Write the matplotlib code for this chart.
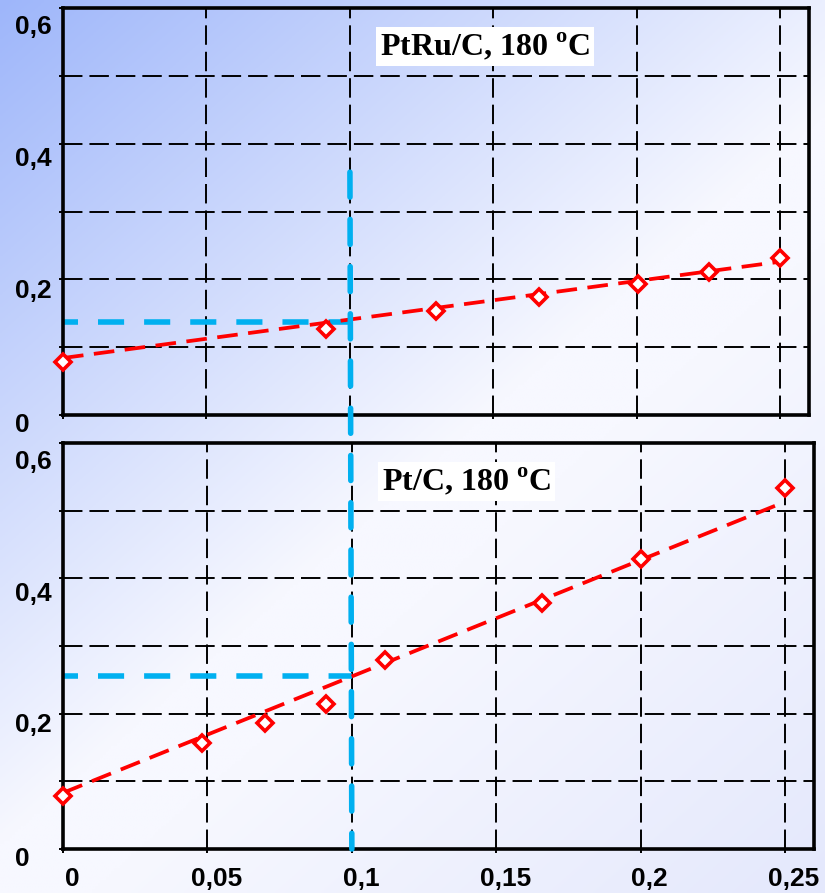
import numpy as np
import matplotlib
matplotlib.use("Agg")
import matplotlib.pyplot as plt
from matplotlib.patches import ConnectionPatch
from matplotlib.transforms import ScaledTranslation

plt.rcParams['font.family'] = ['Liberation Sans', 'DejaVu Sans']
plt.rcParams['mathtext.fontset'] = 'custom'
plt.rcParams['mathtext.rm'] = 'Liberation Serif'
plt.rcParams['mathtext.bf'] = 'Liberation Serif:bold'

# data
ptru_x = [0, 0.0917, 0.130, 0.166, 0.2005, 0.225, 0.25]
ptru_y = [0.078, 0.127, 0.153, 0.174, 0.193, 0.211, 0.231]
ptru_fit_x = [0, 0.25]
ptru_fit_y = [0.084, 0.226]
ptru_mark_y = 0.137      # cyan guide at x = 0.1

pt_x = [0, 0.048, 0.070, 0.091, 0.1115, 0.166, 0.200, 0.250]
pt_y = [0.078, 0.156, 0.186, 0.215, 0.279, 0.364, 0.428, 0.534]
pt_fit_x = [0, 0.247]
pt_fit_y = [0.083, 0.508]
pt_mark_y = 0.255

mark_x = 0.1
vline_top = 0.358

x_ticks = [0, 0.05, 0.1, 0.15, 0.2, 0.25]
x_labels = ['0', '0,05', '0,1', '0,15', '0,2', '0,25']
y_ticks = [0, 0.1, 0.2, 0.3, 0.4, 0.5, 0.6]
y_labels = ['0', '', '0,2', '', '0,4', '', '0,6']
y_label_shift = [7, 0, 9, 0, 13, 0, 17]   # px, labels sit a bit low

titles = ['PtRu/C, 180 $^{\\mathbf{o}}$C', 'Pt/C, 180 $^{\\mathbf{o}}$C']

W, H, DPI = 825, 893, 100
fig = plt.figure(figsize=(W / DPI, H / DPI), dpi=DPI)

# gradient background (blue top-left fading to white, faint blue bottom-right)
bg = fig.add_axes([0, 0, 1, 1], zorder=-10)
gy, gx = np.mgrid[0:1:300j, 0:1:300j]
t = 0.45 * gx + 0.55 * gy
c0 = np.array([158, 182, 250]) / 255
c1 = np.array([247, 248, 255]) / 255
c2 = np.array([228, 232, 252]) / 255
a = np.clip(t / 0.52, 0, 1)[..., None]
b = np.clip((t - 0.6) / 0.4, 0, 1)[..., None]
img = c0 * (1 - a) + c1 * a
img = img * (1 - b) + c2 * b
bg.imshow(img, extent=[0, 1, 0, 1], aspect='auto', origin='upper')
bg.axis('off')

ax1 = fig.add_axes([63 / W, 1 - 415 / H, 746 / W, 407 / H])
ax2 = fig.add_axes([63 / W, 1 - 849 / H, 751 / W, 406 / H])

red = '#ff0000'
cyan = '#00b0f0'

panels = [(ax1, ptru_x, ptru_y, ptru_fit_x, ptru_fit_y, ptru_mark_y),
          (ax2, pt_x, pt_y, pt_fit_x, pt_fit_y, pt_mark_y)]

for i, (ax, xs, ys, fx, fy, my) in enumerate(panels):
    ax.set_facecolor('none')
    ax.set_xlim(0, 0.26)
    ax.set_ylim(0, 0.6)
    for s in ax.spines.values():
        s.set_linewidth(2.6)
        s.set_color('black')
    ax.set_xticks(x_ticks)
    ax.set_yticks(y_ticks)
    ax.set_yticklabels(y_labels)
    if i == 1:
        ax.set_xticklabels(x_labels)
    else:
        ax.set_xticklabels([])
    ax.tick_params(axis='both', direction='out', length=3, width=1.4, color='black',
                   labelsize=19)
    ax.tick_params(axis='x', pad=10)
    ax.tick_params(axis='y', pad=31.5)
    for lab in ax.get_xticklabels():
        lab.set_fontweight('bold')
        lab.set_transform(lab.get_transform() + ScaledTranslation(0.09, 0, fig.dpi_scale_trans))
    for lab, dy in zip(ax.get_yticklabels(), y_label_shift):
        lab.set_fontweight('bold')
        lab.set_ha('left')
        lab.set_transform(lab.get_transform() + ScaledTranslation(0, -dy / DPI, fig.dpi_scale_trans))

    for gxv in x_ticks[1:]:
        ax.axvline(gxv, color='black', lw=1.4, ls=(0, (10, 3.6)), zorder=1)
    for gyv in y_ticks[1:-1]:
        ax.axhline(gyv, color='black', lw=1.4, ls=(0, (10, 3.6)), zorder=1)

    # cyan guide to x = 0.1
    ax.plot([0, mark_x], [my, my], color=cyan, lw=4, ls=(2, (4.7, 3.6)), zorder=2,
            clip_on=False)

    ax.plot(fx, fy, color=red, lw=2.7, ls=(0, (5.5, 2.8)), zorder=3)
    ax.plot(xs, ys, ls='none', marker='D', ms=8.5, mfc='white', mec=red, mew=2.6,
            zorder=4, clip_on=False)

    ax.text(0.1105, 0.543, titles[i], fontsize=23, fontweight='bold',
            family='Liberation Serif', ha='left', va='center', zorder=5,
            bbox=dict(boxstyle='square,pad=0.12', fc='white', ec='none'))

# one vertical cyan guide running through both panels
con = ConnectionPatch(xyA=(mark_x, vline_top), coordsA=ax1.transData,
                      xyB=(mark_x, 0), coordsB=ax2.transData,
                      color=cyan, lw=4, ls=(0, (4.5, 4.0)), zorder=6)
fig.add_artist(con)

fig.savefig('out.png', dpi=DPI)
